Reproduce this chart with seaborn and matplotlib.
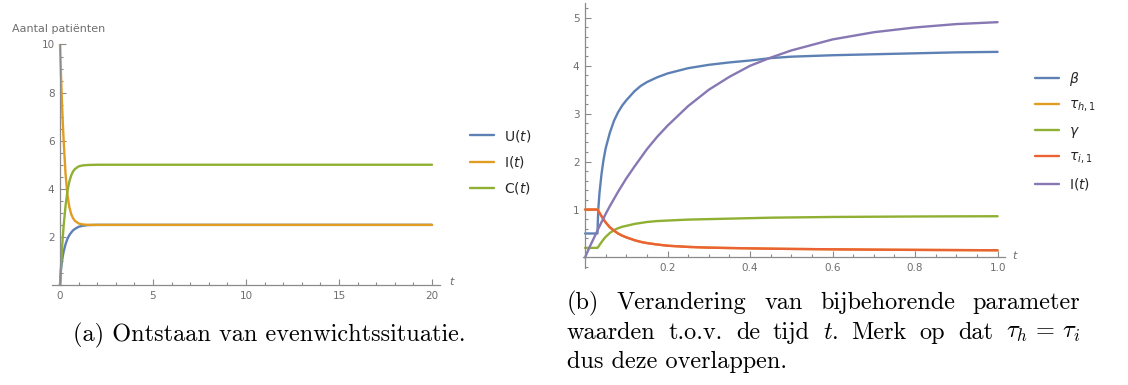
import matplotlib
matplotlib.use("Agg")
import matplotlib.pyplot as plt
import pandas as pd
import seaborn as sns
from matplotlib.ticker import MultipleLocator, FixedLocator, FormatStrFormatter
from matplotlib.lines import Line2D

# ---------------- data ----------------
# (a) evolution towards equilibrium
t_a = [0, 0.05, 0.1, 0.15, 0.2, 0.3, 0.4, 0.5, 0.6, 0.7, 0.8, 1.0, 1.2, 1.5, 2.0, 3.0, 20.0]
U_a = [0, 0.6, 0.95, 1.2, 1.4, 1.7, 1.92, 2.07, 2.18, 2.27, 2.33, 2.42, 2.46, 2.49, 2.5, 2.5, 2.5]
I_a = [10, 8.8, 7.7, 6.75, 5.95, 4.6, 3.75, 3.25, 2.95, 2.78, 2.67, 2.56, 2.52, 2.5, 2.5, 2.5, 2.5]
C_a = [0, 0.7, 1.4, 2.0, 2.5, 3.3, 3.9, 4.3, 4.55, 4.72, 4.82, 4.93, 4.97, 4.99, 5.0, 5.0, 5.0]
labels_a = ["U($t$)", "I($t$)", "C($t$)"]

# (b) parameter values over time
t_b = [0, 0.01, 0.02, 0.03, 0.032, 0.035, 0.04, 0.045, 0.05, 0.06, 0.07, 0.08, 0.09, 0.1,
       0.12, 0.135, 0.15, 0.175, 0.2, 0.25, 0.3, 0.35, 0.4, 0.45, 0.5, 0.6, 0.7, 0.8, 0.9, 1.0]
beta_b = [0.5, 0.5, 0.5, 0.5, 1.0, 1.35, 1.75, 2.05, 2.28, 2.6, 2.85, 3.03, 3.17, 3.28,
          3.47, 3.58, 3.66, 3.76, 3.84, 3.95, 4.02, 4.07, 4.11, 4.16, 4.19, 4.22, 4.24, 4.26, 4.28, 4.29]
tauh_b = [1.0, 1.0, 1.0, 1.0, 0.97, 0.93, 0.86, 0.79, 0.73, 0.63, 0.56, 0.5, 0.455, 0.42,
          0.36, 0.325, 0.3, 0.27, 0.245, 0.22, 0.205, 0.197, 0.19, 0.183, 0.178, 0.17, 0.163, 0.158, 0.154, 0.15]
gamma_b = [0.2, 0.2, 0.2, 0.2, 0.22, 0.26, 0.32, 0.38, 0.43, 0.51, 0.57, 0.61, 0.64, 0.66,
           0.7, 0.72, 0.74, 0.76, 0.77, 0.79, 0.8, 0.81, 0.82, 0.83, 0.835, 0.845, 0.85, 0.855, 0.858, 0.86]
taui_b = list(tauh_b)  # tau_h = tau_i, the curves overlap
inf_b = [0, 0.2, 0.38, 0.56, 0.6, 0.65, 0.74, 0.82, 0.91, 1.07, 1.22, 1.37, 1.51, 1.65,
         1.9, 2.08, 2.26, 2.52, 2.75, 3.16, 3.5, 3.77, 4.0, 4.17, 4.32, 4.55, 4.7, 4.8, 4.87, 4.91]
labels_b = [r"$\beta$", r"$\tau_{h,1}$", r"$\gamma$", r"$\tau_{i,1}$", "I($t$)"]

# ---------------- style ----------------
sns.set_theme(style="white")
plt.rcParams["font.family"] = ["DejaVu Sans"]
W, H = 1128, 385
BLUE, ORANGE, GREEN, RED, PURPLE = "#5E81B5", "#E19C24", "#8FB032", "#EB6235", "#8778B3"
AXC = "#8a8a8a"
TXC = "#6e6e6e"
LW = 1.7

fig = plt.figure(figsize=(W / 100, H / 100), dpi=100)
fig.patch.set_facecolor("white")


def px_axes(l, r, b, t):
    return fig.add_axes([l / W, 1 - b / H, (r - l) / W, (b - t) / H])


def style_axes(ax):
    for s in ("top", "right"):
        ax.spines[s].set_visible(False)
    for s in ("left", "bottom"):
        ax.spines[s].set_color(AXC)
        ax.spines[s].set_linewidth(0.9)
        ax.spines[s].set_position(("data", 0))
    ax.tick_params(which="both", direction="in", colors=AXC, labelcolor=TXC,
                   labelsize=7.5, width=0.8, pad=4, bottom=True, left=True,
                   top=False, right=False)
    ax.tick_params(which="major", length=4)
    ax.tick_params(which="minor", length=2.3)
    ax.set_facecolor("white")
    ax.set_xlabel("")
    ax.set_ylabel("")


# ---------------- (a) ----------------
ax1 = px_axes(52, 440, 285, 44)
df_a = pd.DataFrame({
    "t": t_a * 3,
    "value": U_a + I_a + C_a,
    "series": [labels_a[0]] * len(t_a) + [labels_a[1]] * len(t_a) + [labels_a[2]] * len(t_a),
})
pal_a = dict(zip(labels_a, [BLUE, ORANGE, GREEN]))
sns.lineplot(data=df_a, x="t", y="value", hue="series", hue_order=labels_a, palette=pal_a,
             linewidth=LW, ax=ax1, legend=False, sort=False, estimator=None)
ax1.set_xlim(-0.43, 20.43)
ax1.set_ylim(0, 10.02)
style_axes(ax1)
ax1.xaxis.set_major_locator(FixedLocator([0, 5, 10, 15, 20]))
ax1.xaxis.set_minor_locator(MultipleLocator(1))
ax1.yaxis.set_major_locator(FixedLocator([2, 4, 6, 8, 10]))
ax1.yaxis.set_minor_locator(MultipleLocator(0.5))
ax1.spines["left"].set_bounds(0, 10)
ax1.spines["bottom"].set_bounds(-0.43, 20.43)

fig.text(12 / W, 1 - 29 / H, "Aantal patiënten", fontsize=8, color=TXC, va="center", ha="left")
fig.text(449 / W, 1 - 282 / H, "t", fontsize=8, color=TXC, style="italic", va="center", ha="left")

handles_a = [Line2D([], [], color=pal_a[l], lw=LW) for l in labels_a]
fig.legend(handles_a, labels_a, loc="center left", bbox_to_anchor=(470 / W, 1 - 162 / H),
           frameon=False, fontsize=10, handlelength=1.75, handletextpad=0.7,
           labelspacing=0.75, borderpad=0, borderaxespad=0)

# ---------------- (b) ----------------
ax2 = px_axes(583, 1005, 268, 3)
n = len(t_b)
df_b = pd.DataFrame({
    "t": t_b * 5,
    "value": beta_b + tauh_b + gamma_b + taui_b + inf_b,
    "series": sum([[l] * n for l in labels_b], []),
})
pal_b = dict(zip(labels_b, [BLUE, ORANGE, GREEN, RED, PURPLE]))
sns.lineplot(data=df_b, x="t", y="value", hue="series", hue_order=labels_b, palette=pal_b,
             linewidth=LW, ax=ax2, legend=False, sort=False, estimator=None)
ax2.set_xlim(-0.005, 1.018)
ax2.set_ylim(-0.22, 5.31)
style_axes(ax2)
ax2.xaxis.set_major_locator(FixedLocator([0.2, 0.4, 0.6, 0.8, 1.0]))
ax2.xaxis.set_major_formatter(FormatStrFormatter("%.1f"))
ax2.xaxis.set_minor_locator(MultipleLocator(0.05))
ax2.yaxis.set_major_locator(FixedLocator([1, 2, 3, 4, 5]))
ax2.yaxis.set_minor_locator(MultipleLocator(0.2))

fig.text(1012 / W, 1 - 256 / H, "t", fontsize=8, color=TXC, style="italic", va="center", ha="left")

handles_b = [Line2D([], [], color=pal_b[l], lw=LW) for l in labels_b]
fig.legend(handles_b, labels_b, loc="center left", bbox_to_anchor=(1035 / W, 1 - 131 / H),
           frameon=False, fontsize=10, handlelength=1.75, handletextpad=0.7,
           labelspacing=0.72, borderpad=0, borderaxespad=0)

# ---------------- captions ----------------
CAP = dict(family="cmr10", math_fontfamily="cm", fontsize=17.5, color="black", va="center", ha="left")
fig.text(73 / W, 1 - 335 / H, "(a) Ontstaan van evenwichtssituatie.", **CAP)


def justified(words, x0, x1, ypx):
    texts = [fig.text(0, 1 - ypx / H, w, **CAP) for w in words]
    fig.canvas.draw()
    r = fig.canvas.get_renderer()
    widths = [t.get_window_extent(r).width for t in texts]
    gap = ((x1 - x0) - sum(widths)) / (len(words) - 1)
    x = x0
    for t, w in zip(texts, widths):
        t.set_x(x / W)
        x += w + gap


justified(["(b)", "Verandering", "van", "bijbehorende", "parameter"], 567, 1080, 303)
justified(["waarden", "t.o.v.", "de", "tijd", "$t$.", "Merk", "op", "dat", r"$\tau_h\,=\,\tau_i$"],
          567, 1080, 333)
fig.text(567 / W, 1 - 362 / H, "dus deze overlappen.", **CAP)

fig.savefig("out.png", dpi=100, facecolor="white")
